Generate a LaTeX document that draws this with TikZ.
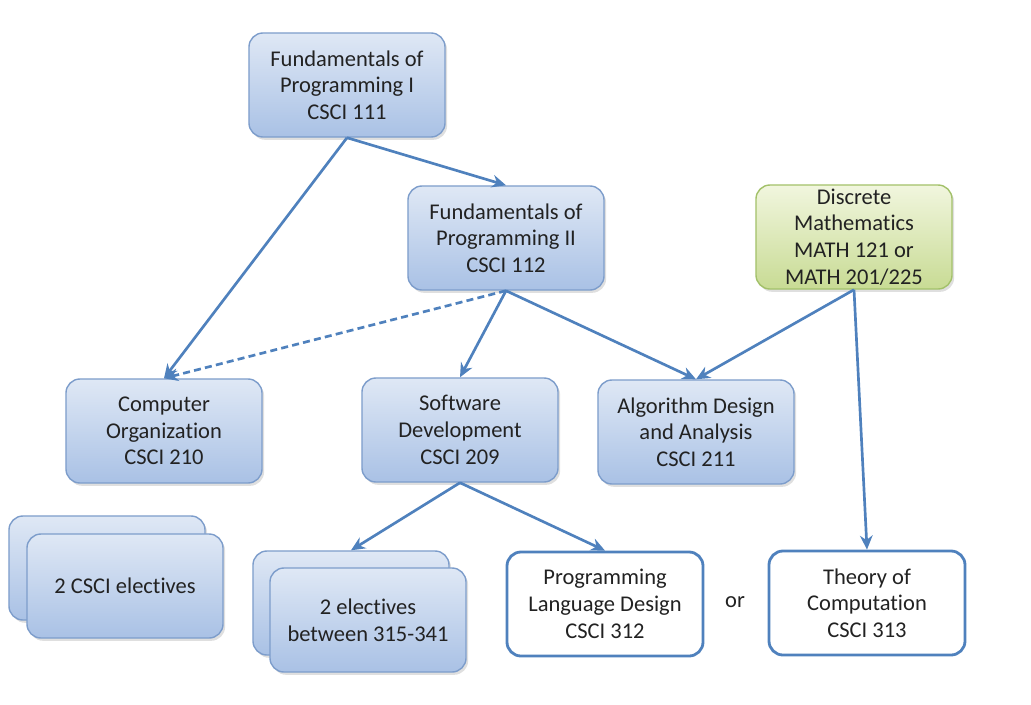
\documentclass[tikz,border=0pt]{standalone}
\usepackage{fontspec}
\setmainfont{Carlito}[Ligatures={NoCommon}]
\usetikzlibrary{arrows.meta,shadows}
\definecolor{CsBlue}{HTML}{4F81BD}
\definecolor{CsEdge}{HTML}{7D9DCB}
\definecolor{CsTop}{HTML}{DFE8F5}
\definecolor{CsBottom}{HTML}{A9C1E5}
\definecolor{CsGreenTop}{HTML}{F1F6DE}
\definecolor{CsGreenBottom}{HTML}{C8DB94}
\definecolor{CsGreenEdge}{HTML}{A3C16A}
\definecolor{CsText}{HTML}{222222}

\tikzset{
  course/.style={draw=CsEdge,line width=1pt,rounded corners=10pt,
    top color=CsTop,bottom color=CsBottom,
    drop shadow={shadow xshift=1.5pt,shadow yshift=-2pt,opacity=.25},
    minimum width=4.9cm,minimum height=2.6cm,inner sep=1pt,
    align=center,text=CsText,font=\fontsize{16}{19}\selectfont},
  mathbox/.style={course,draw=CsGreenEdge,top color=CsGreenTop,bottom color=CsGreenBottom},
  finalbox/.style={draw=CsBlue,line width=2pt,rounded corners=10pt,fill=white,
    minimum width=4.9cm,minimum height=2.6cm,inner sep=1pt,
    align=center,text=CsText,font=\fontsize{16}{19}\selectfont},
  plaintext/.style={text=CsText,font=\fontsize{16}{19}\selectfont},
  link/.style={CsBlue,line width=1.9pt,-{Stealth[length=10pt,width=9pt]}}
}

\begin{document}
\begin{tikzpicture}[x=0.025cm,y=-0.025cm]
  \useasboundingbox (0,0) rectangle (1031,704);

  % first year
  \node[course] (p1) at (347,85) {Fundamentals of\\Programming I\\CSCI 111};
  \node[course] (p2) at (506,238) {Fundamentals of\\Programming II\\CSCI 112};
  \node[mathbox] (dm) at (854,237) {Discrete\\Mathematics\\MATH 121 or\\MATH 201/225};

  % second year
  \node[course] (co) at (164,431) {Computer\\Organization\\CSCI 210};
  \node[course] (sd) at (460,430) {Software\\Development\\CSCI 209};
  \node[course] (ad) at (696,432) {Algorithm Design\\and Analysis\\CSCI 211};

  % electives and upper level
  \node[course] (ceBack) at (107,568) {};
  \node[course] (ce) at (125,586) {2 CSCI electives};
  \node[course] (elBack) at (351,603) {};
  \node[course] (el) at (368,620) {2 electives\\between 315-341};
  \node[finalbox] (pl) at (605,604) {Programming\\Language Design\\CSCI 312};
  \node[plaintext] (or) at (735,602) {or};
  \node[finalbox] (tc) at (867,603) {Theory of\\Computation\\CSCI 313};

  \draw[link] (p1.south) -- (co.north);
  \draw[link] (p1.south) -- (p2.north);
  \draw[link,dashed,dash pattern=on 5pt off 3pt] (p2.south) -- (co.north);
  \draw[link] (p2.south) -- (sd.north);
  \draw[link] (p2.south) -- (ad.north);
  \draw[link] (dm.south) -- (ad.north);
  \draw[link] (dm.south) -- (tc.north);
  \draw[link] (sd.south) -- (elBack.north);
  \draw[link] (sd.south) -- (pl.north);
\end{tikzpicture}
\end{document}
